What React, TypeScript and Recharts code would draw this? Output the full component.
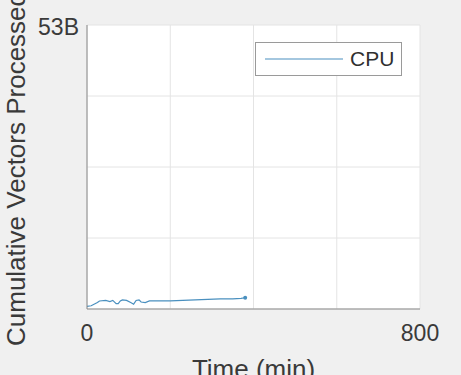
import { CartesianGrid, Legend, Line, LineChart, XAxis, YAxis } from "recharts";

const timeMin = [0, 10, 25, 30, 45, 55, 62, 70, 75, 80, 85, 95, 105, 112, 118, 125, 130, 140, 150, 170, 200, 230, 260, 290, 320, 350, 370, 380];
const cpuVectorsB = [0.5, 0.6, 1.2, 1.5, 1.6, 1.4, 1.6, 1.0, 1.0, 1.5, 1.7, 1.6, 1.2, 0.9, 1.6, 1.7, 1.3, 1.2, 1.5, 1.5, 1.5, 1.6, 1.7, 1.8, 1.9, 1.9, 2.0, 2.1];
const xTicks = [0, 200, 400, 600, 800];
const yTicks = [0, 13.25, 26.5, 39.75, 53];

const FONT = "'Liberation Sans', Arial, Helvetica, sans-serif";
const LINE_COLOR = "#4a90bf";
const BOX = "#8a8a8a";

const data = timeMin.map((t, i) => ({ t, cpu: cpuVectorsB[i] }));

function LegendBox() {
  return (
    <div
      style={{
        width: 147,
        height: 34,
        background: "#fff",
        border: "1px solid #9a9a9a",
        display: "flex",
        alignItems: "center",
        fontFamily: FONT,
        fontSize: 21,
        color: "#303030",
        boxSizing: "border-box",
      }}
    >
      <svg width={92} height={10} style={{ marginLeft: 7 }}>
        <line x1={2} y1={5} x2={80} y2={5} stroke={LINE_COLOR} strokeWidth={1.2} />
      </svg>
      <span style={{ marginLeft: -5 }}>CPU</span>
    </div>
  );
}

export default function App() {
  const last = data.length - 1;
  return (
    <div style={{ position: "fixed", left: 0, top: 0, width: 461, height: 375, background: "#f0f0f0" }}>
      <LineChart width={461} height={375} data={data} margin={{ top: 25, right: 41, left: 0, bottom: 0 }}>
        <CartesianGrid stroke="#e4e4e4" fill="#ffffff" horizontalValues={yTicks} verticalValues={xTicks} />
        <XAxis
          dataKey="t"
          type="number"
          domain={[0, 800]}
          ticks={xTicks}
          tickFormatter={(v) => (v === 0 || v === 800 ? String(v) : "")}
          height={66}
          tickLine={false}
          tickMargin={10}
          axisLine={{ stroke: BOX }}
          tick={{ fontSize: 23, fill: "#3a3a3a", fontFamily: FONT }}
          label={{
            content: () => (
              <text x={253.5} y={378} textAnchor="middle" fontSize={26} fill="#3a3a3a" fontFamily={FONT}>
                Time (min)
              </text>
            ),
          }}
        />
        <XAxis xAxisId="top" orientation="top" type="number" domain={[0, 800]} height={0} tick={false} tickLine={false} axisLine={{ stroke: BOX }} />
        <YAxis
          type="number"
          domain={[0, 53]}
          ticks={yTicks}
          tickFormatter={(v) => (v === 53 ? "53B" : "")}
          width={87}
          tickLine={false}
          axisLine={{ stroke: BOX }}
          tick={{ fontSize: 23, fill: "#3a3a3a", fontFamily: FONT, dy: 2 }}
          label={{
            content: () => (
              <text
                transform="translate(25,169) rotate(-90)"
                textAnchor="middle"
                fontSize={26}
                fill="#3a3a3a"
                fontFamily={FONT}
              >
                Cumulative Vectors Processed
              </text>
            ),
          }}
        />
        <YAxis yAxisId="right" orientation="right" type="number" domain={[0, 53]} width={0} tick={false} tickLine={false} axisLine={{ stroke: BOX }} />
        <Legend
          layout="horizontal"
          align="center"
          verticalAlign="middle"
          content={() => <LegendBox />}
          wrapperStyle={{ position: "absolute", left: 255, top: 42, width: 147, height: 34 }}
        />
        <Line
          type="linear"
          dataKey="cpu"
          name="CPU"
          stroke={LINE_COLOR}
          strokeWidth={1.2}
          isAnimationActive={false}
          dot={(p: any) =>
            p.index === last ? (
              <circle key={p.index} cx={p.cx} cy={p.cy} r={2} fill={LINE_COLOR} />
            ) : (
              <g key={p.index} />
            )
          }
          activeDot={false}
        />
      </LineChart>
    </div>
  );
}
